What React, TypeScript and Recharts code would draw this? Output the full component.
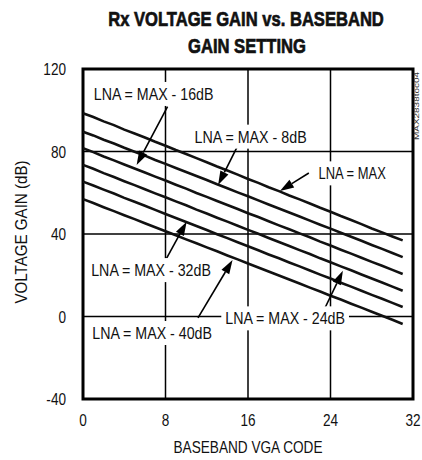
import { CartesianGrid, Line, LineChart, ReferenceArea, ReferenceDot, ReferenceLine, XAxis, YAxis } from "recharts";

// baseband VGA code 0..31
const codes = [
  0, 1, 2, 3, 4, 5, 6, 7, 8, 9, 10, 11, 12, 13, 14, 15,
  16, 17, 18, 19, 20, 21, 22, 23, 24, 25, 26, 27, 28, 29, 30, 31,
];

// voltage gain (dB) per LNA setting
const lnaMax = [
  98.5, 96.7, 94.6, 92.8, 90.6, 88.7, 86.8, 84.7, 82.8, 80.7, 78.8, 76.8, 74.8, 72.7, 70.8, 68.8,
  66.7, 64.8, 62.7, 60.8, 58.7, 56.8, 54.8, 52.7, 50.8, 48.7, 46.8, 44.8, 42.7, 40.8, 38.8, 36.9,
];
const lnaMinus8 = [
  89.6, 87.8, 85.7, 83.9, 81.8, 79.9, 78.0, 75.9, 74.0, 72.0, 70.1, 68.1, 66.2, 64.1, 62.2, 60.2,
  58.3, 56.3, 54.3, 52.4, 50.4, 48.5, 46.5, 44.5, 42.6, 40.6, 38.7, 36.7, 34.7, 32.8, 30.8, 28.8,
];
const lnaMinus16 = [
  81.6, 79.7, 77.6, 75.7, 73.7, 71.8, 69.8, 67.8, 65.9, 63.9, 62.0, 59.9, 58.0, 56.0, 54.1, 52.1,
  50.1, 48.2, 46.2, 44.2, 42.3, 40.3, 38.4, 36.3, 34.4, 32.4, 30.5, 28.5, 26.5, 24.6, 22.6, 20.6,
];
const lnaMinus24 = [
  73.5, 71.6, 69.5, 67.6, 65.6, 63.7, 61.7, 59.7, 57.8, 55.8, 53.9, 51.8, 49.9, 47.9, 46.0, 44.0,
  42.0, 40.1, 38.1, 36.1, 34.2, 32.2, 30.3, 28.2, 26.3, 24.3, 22.4, 20.4, 18.4, 16.5, 14.5, 12.5,
];
const lnaMinus32 = [
  65.4, 63.5, 61.5, 59.6, 57.5, 55.6, 53.7, 51.7, 49.7, 47.8, 45.8, 43.9, 41.9, 39.9, 38.0, 36.0,
  34.1, 32.1, 30.1, 28.2, 26.2, 24.3, 22.3, 20.3, 18.4, 16.4, 14.5, 12.5, 10.5, 8.6, 6.6, 4.6,
];
const lnaMinus40 = [
  56.9, 55.0, 53.0, 51.1, 49.1, 47.2, 45.2, 43.3, 41.3, 39.4, 37.4, 35.5, 33.5, 31.6, 29.6, 27.7,
  25.7, 23.8, 21.8, 19.9, 17.9, 16.0, 14.0, 12.1, 10.1, 8.2, 6.2, 4.3, 2.3, 0.4, -1.6, -3.6,
];

const xTicks = [0, 8, 16, 24, 32];
const yTicks = [-40, 0, 40, 80, 120];

// annotation text, label centre, arrow tail and arrow tip (code, dB)
const labels = [
  { text: "LNA = MAX - 16dB", x: 6.85, y: 107.9, tail: [8.2, 101.7], tip: [5.2, 73.5] },
  { text: "LNA = MAX - 8dB", x: 16.25, y: 87.2, tail: [14.95, 82.2], tip: [13.1, 63.8] },
  { text: "LNA = MAX", x: 26.1, y: 69.4, tail: [21.9, 69.6], tip: [19.1, 60.8] },
  { text: "LNA = MAX - 32dB", x: 6.6, y: 22.5, tail: [8.1, 28.2], tip: [10.05, 46] },
  { text: "LNA = MAX - 40dB", x: 6.7, y: -8, tail: [11.15, -0.7], tip: [14.5, 27.4] },
  { text: "LNA = MAX - 24dB", x: 19.6, y: -0.9, tail: [23.45, 4], tip: [25.2, 22.2] },
];

const series = [lnaMax, lnaMinus8, lnaMinus16, lnaMinus24, lnaMinus32, lnaMinus40];
const data = codes.map((c, i) => {
  const row: Record<string, number> = { code: c };
  series.forEach((s, k) => (row["s" + k] = s[i]));
  return row;
});

const FONT = "'Liberation Sans', Arial, sans-serif";
const NARROW = 0.8;

function Arrow(props: any) {
  const { x1, y1, x2, y2 } = props;
  const dx = x2 - x1;
  const dy = y2 - y1;
  const len = Math.sqrt(dx * dx + dy * dy);
  const ux = dx / len;
  const uy = dy / len;
  const hl = 14;
  const hw = 4.5;
  const bx = x2 - ux * hl;
  const by = y2 - uy * hl;
  return (
    <g>
      <line x1={x1} y1={y1} x2={bx} y2={by} stroke="#000" strokeWidth={1.6} />
      <polygon
        points={`${x2},${y2} ${bx - uy * hw},${by + ux * hw} ${bx + uy * hw},${by - ux * hw}`}
        fill="#000"
      />
    </g>
  );
}

function LabelBox(text: string) {
  return (props: any) => {
    const { cx, cy } = props;
    const w = text.length * 17 * 0.55 * NARROW;
    return (
      <g>
        <rect x={cx - w / 2 - 4} y={cy - 12} width={w + 8} height={24} fill="#fff" />
        <text
          x={cx}
          y={cy + 6}
          textAnchor="middle"
          fontSize={17}
          fontFamily={FONT}
          fill="#111"
          textLength={w}
          lengthAdjust="spacingAndGlyphs"
        >
          {text}
        </text>
      </g>
    );
  };
}

function XTick(props: any) {
  const { x, y, payload } = props;
  return (
    <g transform={`translate(${x},${y}) scale(${NARROW},1)`}>
      <text x={0} y={14} textAnchor="middle" fontSize={17} fontFamily={FONT} fill="#111">
        {payload.value}
      </text>
    </g>
  );
}

function YTick(props: any) {
  const { x, y, payload } = props;
  return (
    <g transform={`translate(${x},${y}) scale(${NARROW},1)`}>
      <text x={0} y={6} textAnchor="end" fontSize={17} fontFamily={FONT} fill="#111">
        {payload.value}
      </text>
    </g>
  );
}

export default function App() {
  return (
    <div style={{ position: "absolute", left: 0, top: 0, width: 422, height: 460, background: "#fff" }}>
      <LineChart width={422} height={460} data={data} margin={{ top: 69, right: 9, left: 0, bottom: 0 }}>
        <CartesianGrid stroke="#000" strokeWidth={1.5} horizontalValues={[0, 40, 80]} verticalValues={[8, 16, 24]} />
        <XAxis
          dataKey="code"
          type="number"
          domain={[0, 32]}
          ticks={xTicks}
          axisLine={false}
          tickLine={false}
          tickSize={0}
          tickMargin={13}
          height={61}
          tick={<XTick />}
          label={(p: any) => {
            const vb = p.viewBox;
            const cx = vb.x + vb.width / 2;
            return (
              <text x={cx} y={453} textAnchor="middle" fontSize={17} fontFamily={FONT} fill="#111" textLength={149} lengthAdjust="spacingAndGlyphs">
                BASEBAND VGA CODE
              </text>
            );
          }}
        />
        <YAxis
          type="number"
          domain={[-40, 120]}
          ticks={yTicks}
          axisLine={false}
          tickLine={false}
          tickSize={0}
          tickMargin={17}
          width={83}
          tick={<YTick />}
          label={(p: any) => {
            const vb = p.viewBox;
            const cy = vb.y + vb.height / 2 - 2;
            return (
              <text
                x={27}
                y={cy}
                transform={`rotate(-90 27 ${cy})`}
                textAnchor="middle"
                fontSize={16.5}
                fontFamily={FONT}
                fill="#111"
                textLength={143}
                lengthAdjust="spacingAndGlyphs"
              >
                VOLTAGE GAIN (dB)
              </text>
            );
          }}
        />
        <ReferenceArea x1={0} x2={32} y1={-40} y2={120} fill="none" fillOpacity={0} stroke="#000" strokeWidth={3} />
        {series.map((_, k) => (
          <Line
            key={k}
            dataKey={"s" + k}
            type="linear"
            stroke="#111"
            strokeWidth={2.6}
            dot={false}
            isAnimationActive={false}
          />
        ))}
        {labels.map((l) => (
          <ReferenceDot key={l.text} x={l.x} y={l.y} r={1} shape={LabelBox(l.text)} />
        ))}
        {labels.map((l) => (
          <ReferenceLine
            key={"a" + l.text}
            segment={[
              { x: l.tail[0], y: l.tail[1] },
              { x: l.tip[0], y: l.tip[1] },
            ]}
            shape={Arrow}
          />
        ))}
      </LineChart>
      <svg width={422} height={460} style={{ position: "absolute", left: 0, top: 0, pointerEvents: "none" }}>
        <g transform="translate(246,26) scale(0.79,1)">
          <text x={0} y={0} textAnchor="middle" fontSize={21} fontWeight="bold" fontFamily={FONT} fill="#111" stroke="#111" strokeWidth={0.7}>
            Rx VOLTAGE GAIN vs. BASEBAND
          </text>
        </g>
        <g transform="translate(247,53) scale(0.79,1)">
          <text x={0} y={0} textAnchor="middle" fontSize={21} fontWeight="bold" fontFamily={FONT} fill="#111" stroke="#111" strokeWidth={0.7}>
            GAIN SETTING
          </text>
        </g>
        <text
          x={419}
          y={106}
          transform="rotate(-90 419 106)"
          textAnchor="middle"
          fontSize={8}
          fontFamily={FONT}
          fill="#333"
          textLength={68}
          lengthAdjust="spacingAndGlyphs"
        >
          MAX2838toc04
        </text>
      </svg>
    </div>
  );
}
